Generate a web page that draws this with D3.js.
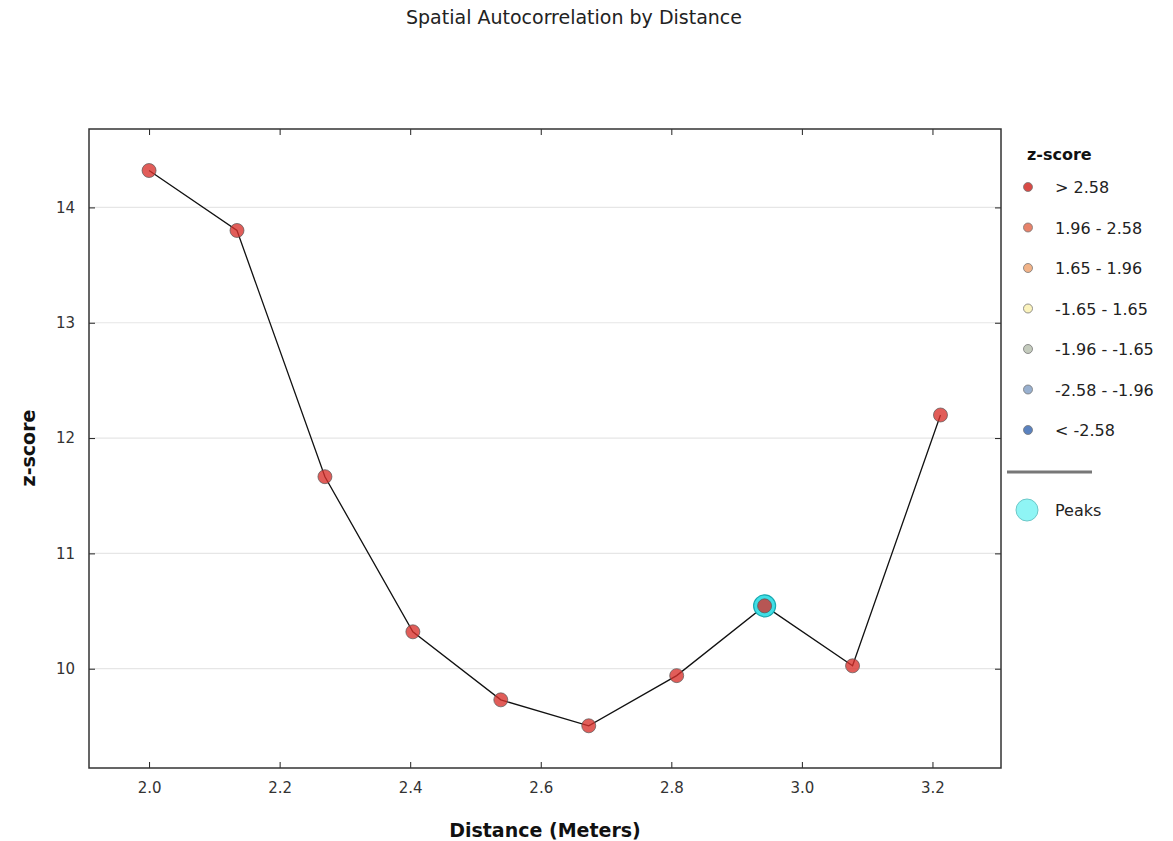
<!DOCTYPE html>
<html>
<head>
<meta charset="utf-8">
<script src="https://cdn.jsdelivr.net/npm/d3@7"></script>
<style>
  body { margin: 0; background: #fff; }
  svg { display: block; font-family: "DejaVu Sans", sans-serif; }
</style>
</head>
<body>
<div id="chart"></div>
<script>
// data
var distances = [2.0, 2.1347, 2.2694, 2.4041, 2.5388, 2.6735, 2.8082, 2.9429, 3.0776, 3.2123];
var zscores = [14.32, 13.80, 11.665, 10.32, 9.73, 9.505, 9.94, 10.545, 10.025, 12.20];
var peakIndex = [7];
var xTicks = [2.0, 2.2, 2.4, 2.6, 2.8, 3.0, 3.2];
var yTicks = [10, 11, 12, 13, 14];
var legendLabels = ['> 2.58', '1.96 - 2.58', '1.65 - 1.96', '-1.65 - 1.65', '-1.96 - -1.65', '-2.58 - -1.96', '< -2.58'];
var legendColors = ['#d94a45', '#e8826a', '#f2b388', '#fbf3bd', '#c4cbbd', '#98b0cf', '#5a82bf'];

var sizes = { width: 1173, height: 841 };
var plot = { left: 89, top: 129, right: 1001, bottom: 768 };

var svg = d3.select('#chart').append('svg')
  .attr('width', sizes.width)
  .attr('height', sizes.height);

var x = d3.scaleLinear().domain([1.908, 3.305]).range([plot.left, plot.right]);
var y = d3.scaleLinear().domain([9.139, 14.68]).range([plot.bottom, plot.top]);

// title
svg.append('text')
  .attr('x', 574).attr('y', 24)
  .attr('text-anchor', 'middle')
  .style('font-size', '19px').style('fill', '#222')
  .text('Spatial Autocorrelation by Distance');

// grid
svg.append('g').selectAll('line')
  .data(yTicks).enter().append('line')
  .attr('x1', plot.left).attr('x2', plot.right)
  .attr('y1', function (d) { return y(d); })
  .attr('y2', function (d) { return y(d); })
  .style('stroke', '#e6e6e6').style('stroke-width', 1.2);

// axes with inward ticks
var tickLen = 6;
svg.append('g')
  .attr('transform', 'translate(0,' + plot.bottom + ')')
  .call(d3.axisBottom(x).tickValues(xTicks).tickFormat(d3.format('.1f')).tickSize(-tickLen).tickPadding(14))
  .call(function (g) { g.select('.domain').remove(); });
svg.append('g')
  .attr('transform', 'translate(0,' + plot.top + ')')
  .call(d3.axisTop(x).tickValues(xTicks).tickFormat('').tickSize(-tickLen))
  .call(function (g) { g.select('.domain').remove(); });
svg.append('g')
  .attr('transform', 'translate(' + plot.left + ',0)')
  .call(d3.axisLeft(y).tickValues(yTicks).tickFormat(d3.format('d')).tickSize(-tickLen).tickPadding(14))
  .call(function (g) { g.select('.domain').remove(); });
svg.append('g')
  .attr('transform', 'translate(' + plot.right + ',0)')
  .call(d3.axisRight(y).tickValues(yTicks).tickFormat('').tickSize(-tickLen))
  .call(function (g) { g.select('.domain').remove(); });

svg.selectAll('.tick text').style('font-size', '15px').style('fill', '#333').style('font-family', '"DejaVu Sans", sans-serif');
svg.selectAll('.tick line').style('stroke', '#222');

// frame
svg.append('rect')
  .attr('x', plot.left).attr('y', plot.top)
  .attr('width', plot.right - plot.left).attr('height', plot.bottom - plot.top)
  .style('fill', 'none').style('stroke', '#333').style('stroke-width', 1.5);

// axis labels
svg.append('text')
  .attr('x', 545).attr('y', 837)
  .attr('text-anchor', 'middle')
  .style('font-size', '19px').style('font-weight', 'bold').style('fill', '#111')
  .text('Distance (Meters)');
svg.append('text')
  .attr('transform', 'translate(35,448) rotate(-90)')
  .attr('text-anchor', 'middle')
  .style('font-size', '19px').style('font-weight', 'bold').style('fill', '#111')
  .text('z-score');

// line
var pts = distances.map(function (d, i) { return [d, zscores[i]]; });
svg.append('path')
  .datum(pts)
  .attr('d', d3.line().x(function (d) { return x(d[0]); }).y(function (d) { return y(d[1]); }))
  .style('fill', 'none').style('stroke', '#111').style('stroke-width', 1.3);

// peaks
svg.append('g').selectAll('circle')
  .data(peakIndex).enter().append('circle')
  .attr('cx', function (i) { return x(distances[i]); })
  .attr('cy', function (i) { return y(zscores[i]); })
  .attr('r', 11)
  .style('fill', '#3fdfe6').style('stroke', '#1aa9b0').style('stroke-width', 1.2);

// points
svg.append('g').selectAll('circle')
  .data(pts).enter().append('circle')
  .attr('cx', function (d) { return x(d[0]); })
  .attr('cy', function (d) { return y(d[1]); })
  .attr('r', 7)
  .style('fill', '#d9302a').style('fill-opacity', 0.78)
  .style('stroke', '#555').style('stroke-opacity', 0.7).style('stroke-width', 1);

// legend
var lg = svg.append('g');
lg.append('text')
  .attr('x', 1027).attr('y', 160)
  .style('font-size', '16px').style('font-weight', 'bold').style('fill', '#111')
  .text('z-score');
var items = lg.selectAll('g.item')
  .data(legendLabels).enter().append('g')
  .attr('class', 'item')
  .attr('transform', function (d, i) { return 'translate(0,' + (187 + i * 40.5) + ')'; });
items.append('circle')
  .attr('cx', 1028).attr('cy', 0).attr('r', 4.5)
  .style('fill', function (d, i) { return legendColors[i]; })
  .style('stroke', '#777').style('stroke-width', 0.8);
items.append('text')
  .attr('x', 1055).attr('y', 6)
  .style('font-size', '16px').style('fill', '#222')
  .text(function (d) { return d; });
lg.append('line')
  .attr('x1', 1007).attr('x2', 1092).attr('y1', 472).attr('y2', 472)
  .style('stroke', '#777').style('stroke-width', 3);
lg.append('circle')
  .attr('cx', 1027).attr('cy', 510).attr('r', 11)
  .style('fill', '#8ff5f5').style('stroke', '#6cc8c8').style('stroke-width', 1);
lg.append('text')
  .attr('x', 1055).attr('y', 516)
  .style('font-size', '16px').style('fill', '#222')
  .text('Peaks');
</script>
</body>
</html>
